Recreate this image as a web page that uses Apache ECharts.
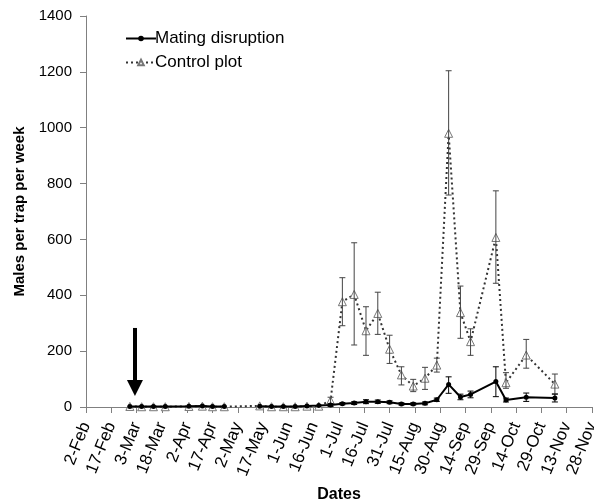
<!DOCTYPE html>
<html>
<head>
<meta charset="utf-8">
<script src="https://cdn.jsdelivr.net/npm/echarts@6/dist/echarts.min.js"></script>
<style>html,body{margin:0;padding:0;background:#fff}#c{width:594px;height:503px}</style>
</head>
<body>
<div id="c"></div>
<script>
// x values: days after 2-Feb (axis ticks every 15 days)
var tickLabels = ['2-Feb','17-Feb','3-Mar','18-Mar','2-Apr','17-Apr','2-May','17-May','1-Jun','16-Jun','1-Jul','16-Jul','31-Jul','15-Aug','30-Aug','14-Sep','29-Sep','14-Oct','29-Oct','13-Nov','28-Nov'];
var yTicks = [0, 200, 400, 600, 800, 1000, 1200, 1400];

var mdDays   = [26, 33, 40, 47, 61, 69, 75, 82, 91, 103, 110, 117, 124, 131, 138, 145, 152, 159, 166, 173, 180, 187, 194, 201, 208, 215, 222, 228, 243, 249, 261, 278];
var mdValues = [2, 2, 2, 2, 3, 4, 2, 2, null, 3, 2, 2, 2, 4, 5, 7, 12, 14, 19, 19, 17, 11, 11, 13, 26, 81, 36, 45, 91, 25, 35, 32];
var mdErrDays = [145, 152, 159, 166, 173, 180, 187, 194, 201, 208, 215, 222, 228, 243, 249, 261, 278];
var mdErrLow  = [2, 8, 9, 12, 13, 12, 7, 7, 8, 20, 49, 26, 33, 37, 18, 20, 18];
var mdErrHigh = [12, 16, 19, 26, 25, 22, 15, 15, 18, 32, 108, 46, 57, 144, 32, 50, 46];

var ctDays   = [26, 33, 40, 47, 61, 69, 75, 82, 103, 110, 117, 124, 131, 138, 145, 152, 159, 166, 173, 180, 187, 194, 201, 208, 215, 222, 228, 243, 249, 261, 278];
var ctValues = [2, 1, 1, 1, 2, 3, 1, 1, 4, 1, 1, 1, 3, 3, 23, 377, 403, 273, 335, 207, 115, 75, 103, 150, 980, 338, 234, 607, 87, 186, 82];
var ctErrDays = [145, 152, 159, 166, 173, 180, 187, 194, 201, 208, 215, 222, 228, 243, 249, 261, 278];
var ctErrLow  = [8, 291, 222, 185, 260, 156, 79, 55, 63, 125, 759, 246, 185, 443, 67, 139, 47];
var ctErrHigh = [35, 463, 588, 359, 411, 257, 144, 99, 142, 175, 1204, 433, 280, 774, 123, 242, 118];

// arrow marking the start of mating disruption (x in days, y in males)
var arrowDay = 29;
var arrowTop = 283;
var arrowEnd = 68;

function pairs(xs, ys) { return xs.map(function (x, i) { return [x, ys[i] == null ? '-' : ys[i]]; }); }
function triples(xs, lo, hi) { return xs.map(function (x, i) { return [x, lo[i], hi[i]]; }); }

function errRenderer(color) {
  return function (params, api) {
    var x = api.value(0);
    var p1 = api.coord([x, api.value(1)]);
    var p2 = api.coord([x, api.value(2)]);
    var w = 3;
    var st = { stroke: color, lineWidth: 1 };
    return {
      type: 'group',
      children: [
        { type: 'line', shape: { x1: p1[0], y1: p1[1], x2: p2[0], y2: p2[1] }, style: st },
        { type: 'line', shape: { x1: p1[0] - w, y1: p1[1], x2: p1[0] + w, y2: p1[1] }, style: st },
        { type: 'line', shape: { x1: p2[0] - w, y1: p2[1], x2: p2[0] + w, y2: p2[1] }, style: st }
      ]
    };
  };
}

var font = 'Liberation Sans, Arial, sans-serif';
var chart = echarts.init(document.getElementById('c'), null, { renderer: 'canvas' });
chart.setOption({
  backgroundColor: '#fff',
  animation: false,
  textStyle: { fontFamily: font },
  grid: { left: 86, right: 2, top: 16, bottom: 96, containLabel: false, outerBoundsMode: 'none' },
  legend: {
    orient: 'vertical',
    left: 120,
    top: 25,
    itemWidth: 30,
    itemHeight: 7,
    itemGap: 7,
    textStyle: { fontSize: 17, color: '#000', fontFamily: font, padding: [0, 0, 0, -6] },
    data: ['Mating disruption', 'Control plot']
  },
  xAxis: {
    type: 'value',
    min: 0,
    max: 300,
    interval: 15,
    name: 'Dates',
    nameLocation: 'middle',
    nameGap: 79,
    nameTextStyle: { fontSize: 16, fontWeight: 'bold', color: '#000', fontFamily: font },
    axisLine: { lineStyle: { color: '#808080', width: 1 } },
    axisTick: { show: true, inside: false, length: 6, lineStyle: { color: '#808080' } },
    axisLabel: {
      rotate: 68,
      margin: 16,
      fontSize: 17,
      color: '#000',
      fontFamily: font,
      formatter: function (v) { return tickLabels[Math.round(v / 15)] || ''; }
    },
    splitLine: { show: false }
  },
  yAxis: {
    type: 'value',
    min: yTicks[0],
    max: yTicks[yTicks.length - 1],
    interval: 200,
    name: 'Males per trap per week',
    nameLocation: 'middle',
    nameGap: 54,
    nameTextStyle: { fontSize: 15, fontWeight: 'bold', color: '#000', fontFamily: font },
    axisLine: { show: true, lineStyle: { color: '#808080', width: 1 } },
    axisTick: { show: true, inside: false, length: 6, lineStyle: { color: '#808080' } },
    axisLabel: { fontSize: 15, color: '#000', margin: 14, fontFamily: font, formatter: function (v) { return String(v); } },
    splitLine: { show: false }
  },
  series: [
    {
      name: 'Control plot',
      type: 'line',
      data: pairs(ctDays, ctValues),
      symbol: 'triangle',
      symbolSize: 8,
      showAllSymbol: true,
      lineStyle: { color: '#333', width: 2, type: [2, 3] },
      itemStyle: { color: '#fff', borderColor: '#777', borderWidth: 1 },
      z: 2
    },
    {
      name: 'Control error',
      type: 'custom',
      renderItem: errRenderer('#444'),
      data: triples(ctErrDays, ctErrLow, ctErrHigh),
      encode: { x: 0, y: [1, 2] },
      z: 3,
      silent: true
    },
    {
      name: 'Mating disruption',
      type: 'line',
      data: pairs(mdDays, mdValues),
      connectNulls: false,
      symbol: 'circle',
      symbolSize: 5,
      showAllSymbol: true,
      lineStyle: { color: '#000', width: 2 },
      itemStyle: { color: '#000' },
      z: 4,
      markLine: {
        silent: true,
        symbol: ['none', 'triangle'],
        symbolSize: 16,
        label: { show: false },
        lineStyle: { color: '#000', width: 4, type: 'solid' },
        data: [[{ coord: [arrowDay, arrowTop] }, { coord: [arrowDay, arrowEnd] }]]
      }
    },
    {
      name: 'Mating error',
      type: 'custom',
      renderItem: errRenderer('#000'),
      data: triples(mdErrDays, mdErrLow, mdErrHigh),
      encode: { x: 0, y: [1, 2] },
      z: 5,
      silent: true
    }
  ]
});
</script>
</body>
</html>
